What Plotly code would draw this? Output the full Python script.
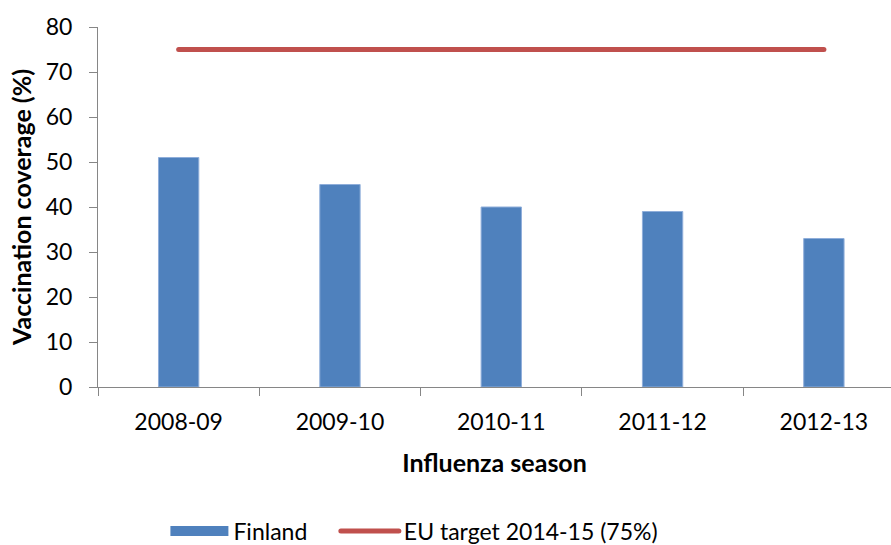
import plotly.graph_objects as go

seasons = ["2008-09", "2009-10", "2010-11", "2011-12", "2012-13"]
finland = [51, 45, 40, 39, 33]
eu_target = [75, 75, 75, 75, 75]

FONT = "Lato"
AX = "#868686"
BLUE = "#4F81BD"
RED = "#C0504D"
NB = "\u00a0"

fig = go.Figure()
fig.add_trace(go.Bar(
    x=seasons, y=finland, name="Finland", showlegend=False,
    marker=dict(color=BLUE, line=dict(color="#8FAEDA", width=1)),
    width=0.25,
))
# legend key for the bars (wide rectangle like the original)
fig.add_trace(go.Scatter(
    x=[None], y=[None], name="Finland" + NB * 4, mode="lines",
    line=dict(color=BLUE, width=14), showlegend=True,
))
fig.add_trace(go.Scatter(
    x=seasons, y=eu_target, name="EU target 2014-15 (75%)", mode="lines",
    line=dict(color=RED, width=5),
))

fig.update_layout(
    width=891, height=545,
    margin=dict(l=98, r=0, t=27, b=158, autoexpand=False),
    plot_bgcolor="white", paper_bgcolor="white",
    font=dict(family=FONT, size=23, color="black"),
    showlegend=True,
    legend=dict(orientation="h", x=0.085, xanchor="left", y=-0.40, yanchor="middle",
                font=dict(size=23), itemwidth=58, traceorder="normal"),
)
fig.update_xaxes(
    type="category",
    range=[-0.5, 4.416], showline=True, linecolor=AX, linewidth=1,
    ticks="outside", ticklen=8, tickcolor=AX, tickson="boundaries",
    showgrid=False, tickfont=dict(size=23), tickangle=0, ticklabelstandoff=14,
    title=dict(text="<b>Influenza season</b>", font=dict(size=25), standoff=20),
)
fig.update_yaxes(
    range=[0, 80], dtick=10, showline=True, linecolor=AX, linewidth=1,
    ticks="outside", ticklen=8, tickcolor=AX, showgrid=False, zeroline=False,
    tickfont=dict(size=23), ticklabelstandoff=12,
    title=dict(text="<b>Vaccination coverage (%)</b>", font=dict(size=25), standoff=6),
)
post = """
document.body.style.margin='0';
function caps(){document.querySelectorAll('path.js-line').forEach(function(p){
  if (parseFloat(p.style.strokeWidth) === 5) { p.style.strokeLinecap='round'; }
});}
caps(); setTimeout(caps, 50); setTimeout(caps, 300);
"""
fig.write_html("out.html", post_script=post, config={"displayModeBar": False})
